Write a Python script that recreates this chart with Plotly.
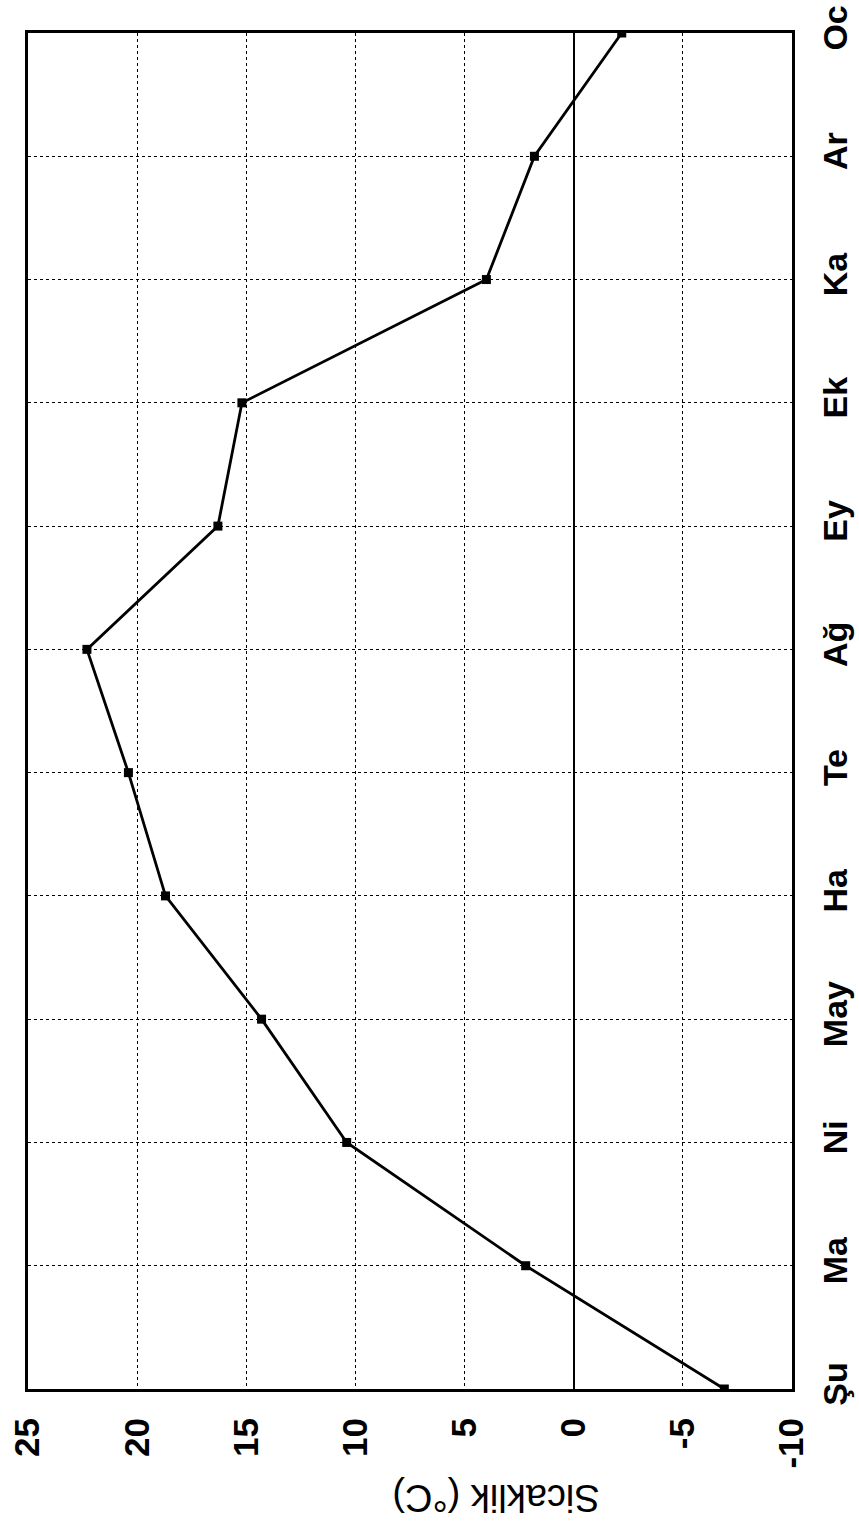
import plotly.graph_objects as go

months = ["Şu", "Ma", "Ni", "May", "Ha", "Te", "Ağ", "Ey", "Ek", "Ka", "Ar", "Oc"]
temps = [-6.9, 2.2, 10.4, 14.3, 18.7, 20.4, 22.3, 16.3, 15.2, 4.0, 1.8, -2.2]
temp_ticks = [25, 20, 15, 10, 5, 0, -5, -10]
temp_labels = ["25", "20", "15", "10", "5", "0", "-5", "-10"]

idx = list(range(len(months)))

fig = go.Figure()
fig.add_trace(go.Scatter(
    x=temps, y=idx, mode="lines+markers",
    line=dict(color="black", width=2.8),
    marker=dict(symbol="square", size=9, color="black"),
    showlegend=False,
))

W, H = 859, 1529
L, R, T, B = 28, 67, 33, 140

fig.update_layout(
    width=W, height=H,
    margin=dict(l=L, r=R, t=T, b=B),
    paper_bgcolor="white", plot_bgcolor="white",
    font=dict(family="Liberation Sans, Arial, sans-serif", color="black"),
    xaxis=dict(
        range=[25, -10], tickvals=temp_ticks, ticktext=temp_labels,
        tickangle=-90, side="bottom", automargin=False,
        tickfont=dict(size=35, family="Liberation Sans, Arial, sans-serif", weight="bold"),
        showgrid=True, gridcolor="black", gridwidth=1.3, griddash="dot",
        zeroline=True, zerolinecolor="black", zerolinewidth=2,
        showline=True, linecolor="black", linewidth=3, mirror=True,
        ticks="", ticklabelstandoff=12,
    ),
    yaxis=dict(
        range=[0, 11], tickvals=idx, ticktext=months,
        tickangle=-90, side="right", automargin=False,
        tickfont=dict(size=34, family="Liberation Sans, Arial, sans-serif", weight="bold"),
        showgrid=True, gridcolor="black", gridwidth=1.3, griddash="dot",
        zeroline=False,
        showline=True, linecolor="black", linewidth=3, mirror=True,
        ticks="", ticklabelstandoff=11,
    ),
    annotations=[dict(
        text="Sicaklik (°C)", textangle=180,
        xref="paper", yref="paper", x=0.613, y=-0.080,
        xanchor="center", yanchor="middle", showarrow=False,
        font=dict(size=38, family="Liberation Sans, Arial, sans-serif", color="black"),
    )],
)

fig.write_html("out.html")
